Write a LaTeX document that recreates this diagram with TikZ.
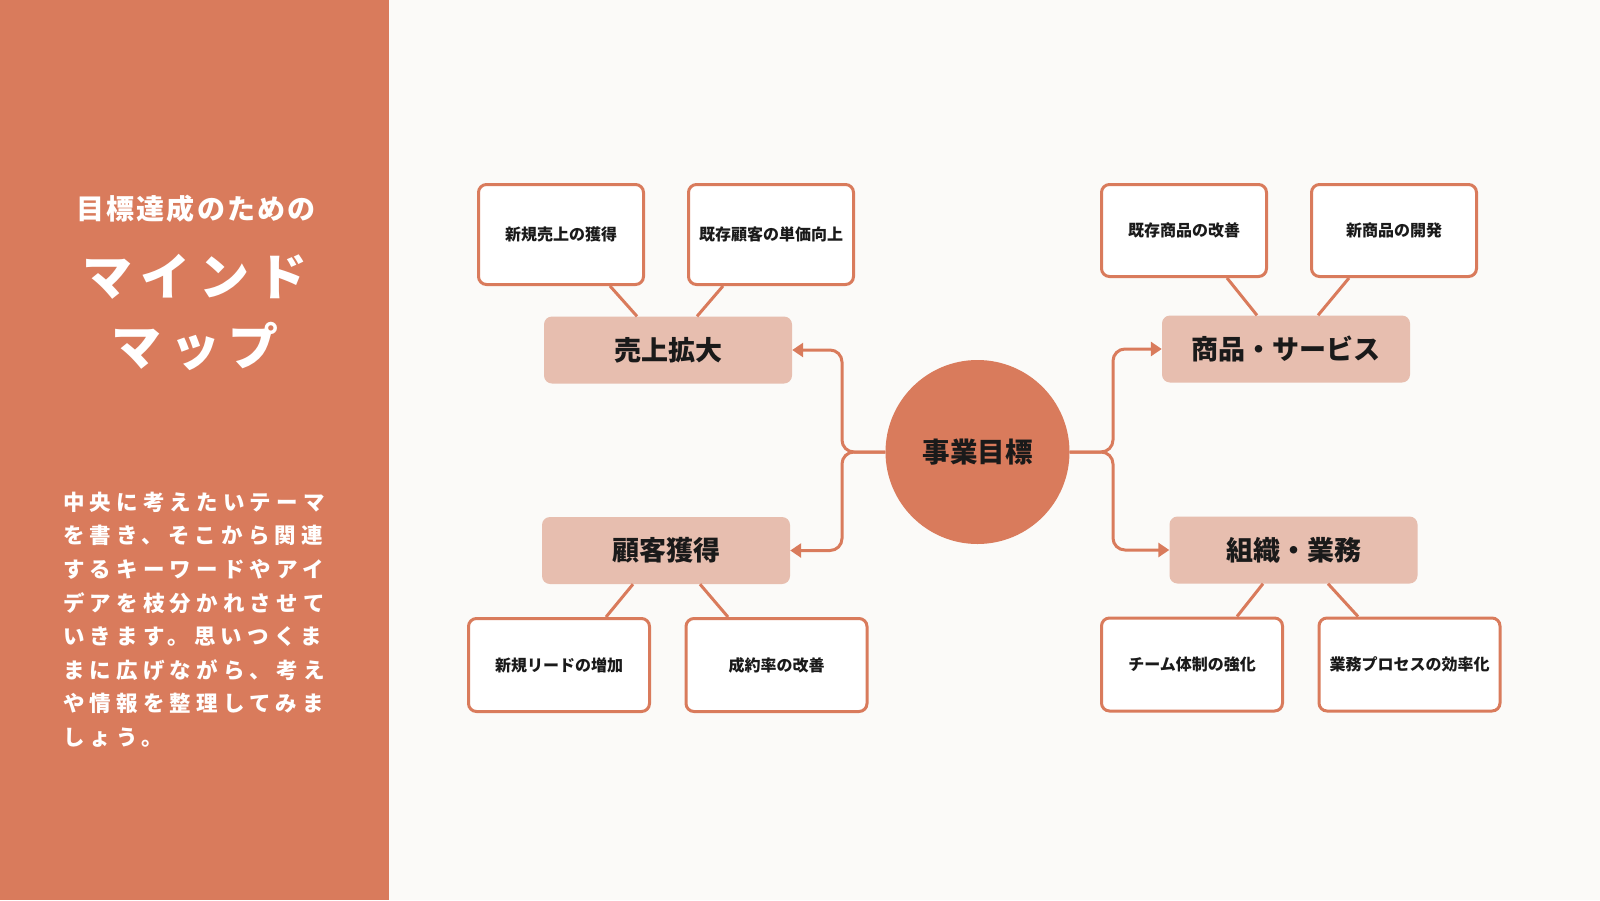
\documentclass[tikz,border=0pt]{standalone}
\usepackage{fontspec}
\usetikzlibrary{arrows.meta}
\newfontfamily\jp{Noto Sans CJK JP}
\newfontfamily\jpa[LetterSpace=8]{Noto Sans CJK JP}
\newfontfamily\jpb[LetterSpace=17]{Noto Sans CJK JP}
\newfontfamily\jpc[LetterSpace=24]{Noto Sans CJK JP}
\definecolor{terra}{HTML}{D97B5C}
\definecolor{bgc}{HTML}{FBFAF8}
\definecolor{pinkfill}{HTML}{E7BEAF}
\definecolor{ink}{HTML}{1A1A1A}
\tikzset{
  branch/.style={fill=pinkfill, rounded corners=8pt, minimum width=248pt, minimum height=67pt, inner sep=0pt, text=ink, font=\jp\bfseries\fontsize{27}{30}\selectfont},
  leaf/.style={draw=terra, line width=3pt, fill=white, rounded corners=8pt, inner sep=0pt, text=ink, font=\jp\bfseries\fontsize{16}{18}\selectfont},
  leafA/.style={leaf, minimum width=165pt, minimum height=100pt},
  leafB/.style={leaf, minimum width=165pt, minimum height=92pt},
  leafC/.style={leaf, minimum width=181pt, minimum height=93pt},
  conn/.style={draw=terra, line width=3pt},
  arr/.style={conn, rounded corners=12pt, -{Triangle[length=11pt,width=14pt]}},
  paneltext/.style={text=white, inner sep=0pt},
}
\begin{document}
\begin{tikzpicture}[x=1pt,y=-1pt]
\useasboundingbox (0,0) rectangle (1600,900);
\fill[bgc] (0,0) rectangle (1600,900);
\fill[terra] (0,0) rectangle (389,900);

% left panel texts
\node[paneltext, font=\jpa\bfseries\fontsize{28}{32}\selectfont] (t1) at (196,209) {目標達成のための};
\node[paneltext, font=\jpb\bfseries\fontsize{50}{56}\selectfont] (t2) at (195,277) {マインド};
\node[paneltext, font=\jpb\bfseries\fontsize{50}{56}\selectfont] (t3) at (195,346) {マップ};
\foreach \txt [count=\i from 0] in {中央に考えたいテーマ,を書き、そこから関連,するキーワードやアイ,デアを枝分かれさせて,いきます。思いつくま,まに広げながら、考え,や情報を整理してみま,しょう。}{
  \node[paneltext, anchor=base west, font=\jpc\bfseries\fontsize{21.5}{24}\selectfont] (p\i) at (63,{510.2+33.6*\i}) {\txt};
}

% center
\node[circle, fill=terra, minimum size=184pt, inner sep=0pt, text=ink, font=\jp\bfseries\fontsize{27.5}{30}\selectfont] (c) at (977.5,452) {事業目標};

% branches
\node[branch] (b1) at (668,350) {売上拡大};
\node[branch] (b2) at (666,550.5) {顧客獲得};
\node[branch] (b3) at (1286,349) {商品・サービス};
\node[branch] (b4) at (1293.5,550) {組織・業務};

% leaves
\node[leafA] (l1) at (561,234.5) {新規売上の獲得};
\node[leafA] (l2) at (771,234.5) {既存顧客の単価向上};
\node[leafB] (l3) at (1184,230.5) {既存商品の改善};
\node[leafB] (l4) at (1394,230.5) {新商品の開発};
\node[leafC] (l5) at (559,665) {新規リードの増加};
\node[leafC] (l6) at (776.5,665) {成約率の改善};
\node[leafC] (l7) at (1192,664.5) {チーム体制の強化};
\node[leafC] (l8) at (1409.5,664.5) {業務プロセスの効率化};

% trunk connectors
\coordinate (jl) at (842,452);
\coordinate (jr) at (1113,452);
\draw[arr] (c.west) -- (jl) |- (b1.east);
\draw[arr] (c.west) -- (jl) |- (b2.east);
\draw[arr] (c.east) -- (jr) |- (b3.west);
\draw[arr] (c.east) -- (jr) |- (b4.west);

% leaf connectors
\draw[conn] ([xshift=49pt]l1.south) -- ([xshift=-31pt]b1.north);
\draw[conn] ([xshift=-48pt]l2.south) -- ([xshift=29pt]b1.north);
\draw[conn] ([xshift=43pt]l3.south) -- ([xshift=-29pt]b3.north);
\draw[conn] ([xshift=-45pt]l4.south) -- ([xshift=32pt]b3.north);
\draw[conn] ([xshift=-33pt]b2.south) -- ([xshift=47pt]l5.north);
\draw[conn] ([xshift=34pt]b2.south) -- ([xshift=-48.5pt]l6.north);
\draw[conn] ([xshift=-30.5pt]b4.south) -- ([xshift=45pt]l7.north);
\draw[conn] ([xshift=34.5pt]b4.south) -- ([xshift=-51.5pt]l8.north);
\end{tikzpicture}
\end{document}
